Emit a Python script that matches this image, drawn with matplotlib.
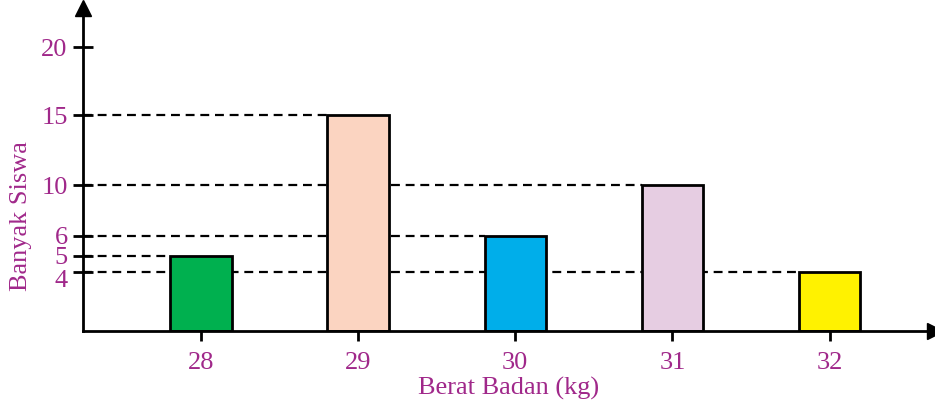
import numpy as np
import matplotlib.pyplot as plt
import matplotlib.transforms as mtransforms

plt.rcParams['font.family'] = ['Liberation Serif', 'DejaVu Serif']

berat = ['28', '29', '30', '31', '32']
banyak = [5, 15, 6, 10, 4]
warna = ['#00B04F', '#FBD4C1', '#00AEEA', '#E6CDE2', '#FFF200']
yticks = [4, 5, 6, 10, 15, 20]

ungu = '#A0288A'

# skala sumbu y digambar tangan: jarak antar nilai tidak persis sama
skala_nilai = [0, 4, 5, 6, 10, 15, 20, 25]
skala_tinggi = [0, 59, 75, 95, 146, 216, 284, 352]


def maju(v):
    return np.interp(v, skala_nilai, skala_tinggi)


def balik(h):
    return np.interp(h, skala_tinggi, skala_nilai)


fig = plt.figure(figsize=(9.35, 4.0), dpi=100)
ax = fig.add_axes([83 / 935, 69 / 400, 852 / 935, 323 / 400])
ax.set_yscale('function', functions=(maju, balik))

xpos = list(range(len(berat)))
lebar = 0.39

# garis putus-putus dari sumbu y ke sisi kiri tiap batang
for x, y in zip(xpos, banyak):
    ax.plot([-0.75, x - lebar / 2], [y, y], color='black', lw=1.6,
            ls=(0, (4, 2.6)), zorder=1, clip_on=False)

ax.bar(xpos, banyak, width=lebar, color=warna, edgecolor='black',
       linewidth=2, zorder=3)

ax.set_xlim(-0.75, 4.67)
ax.set_ylim(0, balik(323))

for s in ['top', 'right']:
    ax.spines[s].set_visible(False)
for s in ['left', 'bottom']:
    ax.spines[s].set_linewidth(2)
    ax.spines[s].set_zorder(4)

# panah di ujung sumbu
ax.plot(1, 0, marker='>', color='black', ms=12, transform=ax.transAxes,
        clip_on=False, zorder=5)
ax.plot(0, 1, marker='^', color='black', ms=12, transform=ax.transAxes,
        clip_on=False, zorder=5)

ax.set_xticks(xpos)
ax.set_xticklabels(berat)
ax.set_yticks(yticks)
ax.set_yticklabels([str(v) for v in yticks])
ax.minorticks_off()
ax.tick_params(axis='y', direction='inout', length=14, width=2,
               labelsize=19, labelcolor=ungu, pad=4)
ax.tick_params(axis='x', direction='out', length=7, width=2,
               labelsize=19, labelcolor=ungu, pad=8)

# label "4" sedikit diturunkan supaya tidak menempel dengan "5"
geser = mtransforms.ScaledTranslation(0, -5 / 72, fig.dpi_scale_trans)
lbl4 = ax.get_yticklabels()[0]
lbl4.set_transform(lbl4.get_transform() + geser)

ax.set_xlabel('Berat Badan (kg)', fontsize=19, color=ungu, labelpad=2)
ax.set_ylabel('Banyak Siswa', fontsize=19, color=ungu)
ax.yaxis.set_label_coords(-0.06, 0.356)

fig.savefig('out.png', dpi=100)
